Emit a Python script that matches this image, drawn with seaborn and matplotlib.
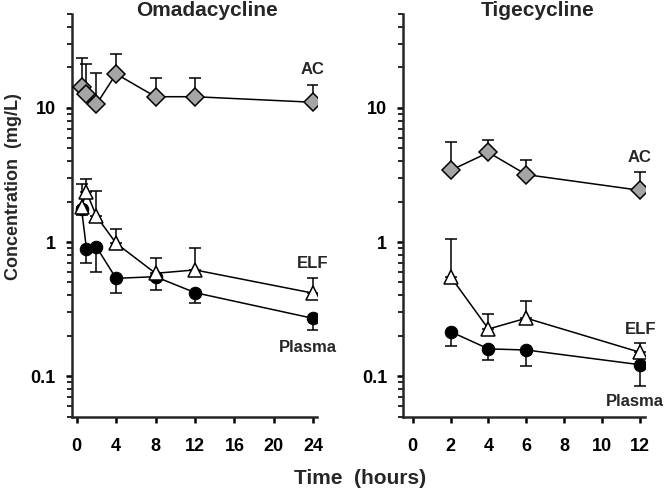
import matplotlib
matplotlib.use("Agg")
import matplotlib.pyplot as plt
from matplotlib.ticker import LogLocator, FixedLocator, NullFormatter, FixedFormatter
import numpy as np
import seaborn as sns

# Omadacycline (hours, mg/L)
oma_time = [0.5, 1, 2, 4, 8, 12, 24]
oma_ac = [14.4, 12.7, 10.6, 17.9, 12.1, 12.1, 11.0]
oma_ac_hi = [23.5, 21.1, 18.3, 25.1, 16.8, 16.8, 14.7]
oma_elf = [1.83, 2.37, 1.56, 0.98, 0.585, 0.62, 0.416]
oma_elf_hi = [2.73, 2.93, 2.4, 1.26, 0.764, 0.90, 0.537]
oma_plasma = [1.76, 0.89, 0.92, 0.537, 0.552, 0.42, 0.27]
oma_plasma_lo = [1.6, 0.695, 0.595, 0.42, 0.44, 0.35, 0.222]

# Tigecycline
tig_time = [2, 4, 6, 12]
tig_ac = [3.42, 4.65, 3.18, 2.43]
tig_ac_hi = [5.56, 5.78, 4.06, 3.30]
tig_elf = [0.552, 0.225, 0.271, 0.151]
tig_elf_hi = [1.047, 0.292, 0.366, 0.177]
tig_plasma = [0.215, 0.16, 0.157, 0.122]
tig_plasma_lo = [0.167, 0.133, 0.12, 0.085]

sns.set_theme(style="ticks")
plt.rcParams["font.family"] = ["Liberation Sans", "DejaVu Sans"]
plt.rcParams["font.weight"] = "bold"

W, H = 666, 490
fig = plt.figure(figsize=(W / 100, H / 100), dpi=100)

def px_axes(x0, x1, y0, y1):
    return fig.add_axes([x0 / W, 1 - y1 / H, (x1 - x0) / W, (y1 - y0) / H])

ax1 = px_axes(71.7, 316.7, 14, 416.7)
ax2 = px_axes(403.3, 645, 14, 416.7)

gray = "#a5a5a5"

def draw_panel(ax, t, ac, ac_hi, elf, elf_hi, pl, pl_lo):
    ac = np.array(ac); elf = np.array(elf); pl = np.array(pl)
    # one-sided error bars: up for AC/ELF, down for plasma
    ax.errorbar(t, ac, yerr=[np.zeros_like(ac), np.array(ac_hi) - ac], fmt="none",
                ecolor="black", elinewidth=1.1, capsize=4, capthick=1.1, zorder=1)
    ax.errorbar(t, elf, yerr=[np.zeros_like(elf), np.array(elf_hi) - elf], fmt="none",
                ecolor="black", elinewidth=1.1, capsize=4, capthick=1.1, zorder=1)
    ax.errorbar(t, pl, yerr=[pl - np.array(pl_lo), np.zeros_like(pl)], fmt="none",
                ecolor="black", elinewidth=1.1, capsize=4, capthick=1.1, zorder=1)
    sns.lineplot(x=t, y=pl, ax=ax, color="black", linewidth=1.1, marker="o",
                 markersize=9, markerfacecolor="black", markeredgecolor="black",
                 errorbar=None, zorder=2)
    sns.lineplot(x=t, y=elf, ax=ax, color="black", linewidth=1.1, marker="^",
                 markersize=10, markerfacecolor="white", markeredgecolor="black",
                 markeredgewidth=1.1, errorbar=None, zorder=3)
    sns.lineplot(x=t, y=ac, ax=ax, color="black", linewidth=1.1, marker="D",
                 markersize=8.8, markerfacecolor=gray, markeredgecolor="black",
                 markeredgewidth=1.1, errorbar=None, zorder=3)

    ax.set_yscale("log")
    ax.set_ylim(0.05, 50)
    ax.yaxis.set_major_locator(FixedLocator([0.1, 1, 10]))
    ax.yaxis.set_major_formatter(FixedFormatter(["0.1", "1", "10"]))
    ax.yaxis.set_minor_locator(LogLocator(base=10, subs=np.arange(2, 10), numticks=20))
    ax.yaxis.set_minor_formatter(NullFormatter())
    for side in ["top", "right"]:
        ax.spines[side].set_visible(False)
    for side in ["left", "bottom"]:
        ax.spines[side].set_linewidth(1.8)
    ax.tick_params(axis="both", which="major", direction="out", length=4.5, width=1.8,
                   labelsize=13, colors="black")
    ax.tick_params(axis="y", which="minor", direction="out", length=3.5, width=1.4)
    ax.tick_params(axis="y", which="major", pad=7)
    ax.tick_params(axis="x", which="major", pad=11)
    ax.set_xlabel("")
    ax.set_ylabel("")

draw_panel(ax1, oma_time, oma_ac, oma_ac_hi, oma_elf, oma_elf_hi, oma_plasma, oma_plasma_lo)
ax1.set_xlim(-0.5, 24.35)
ax1.set_xticks([0, 4, 8, 12, 16, 20, 24])

draw_panel(ax2, tig_time, tig_ac, tig_ac_hi, tig_elf, tig_elf_hi, tig_plasma, tig_plasma_lo)
ax2.set_xlim(-0.5, 12.27)
ax2.set_xticks([0, 2, 4, 6, 8, 10, 12])

for ax in (ax1, ax2):
    for lab in ax.get_xticklabels() + ax.get_yticklabels():
        lab.set_fontweight("bold")

def ftext(x, y, s, size, **kw):
    fig.text(x / W, 1 - y / H, s, fontsize=size, fontweight="bold",
             ha=kw.pop("ha", "center"), va=kw.pop("va", "center"), **kw)

ftext(206.7, 10, "Omadacycline", 15)
ftext(538, 10, "Tigecycline", 15)
ftext(14, 187, "Concentration  (mg/L)", 13, rotation=90)
ftext(360, 478, "Time  (hours)", 15)

# series labels
ftext(313, 69, "AC", 12)
ftext(313, 263, "ELF", 12)
ftext(308, 348, "Plasma", 12)
ftext(640, 157, "AC", 12)
ftext(641, 329, "ELF", 12)
ftext(635, 402, "Plasma", 12)

fig.savefig("out.png", dpi=100)
